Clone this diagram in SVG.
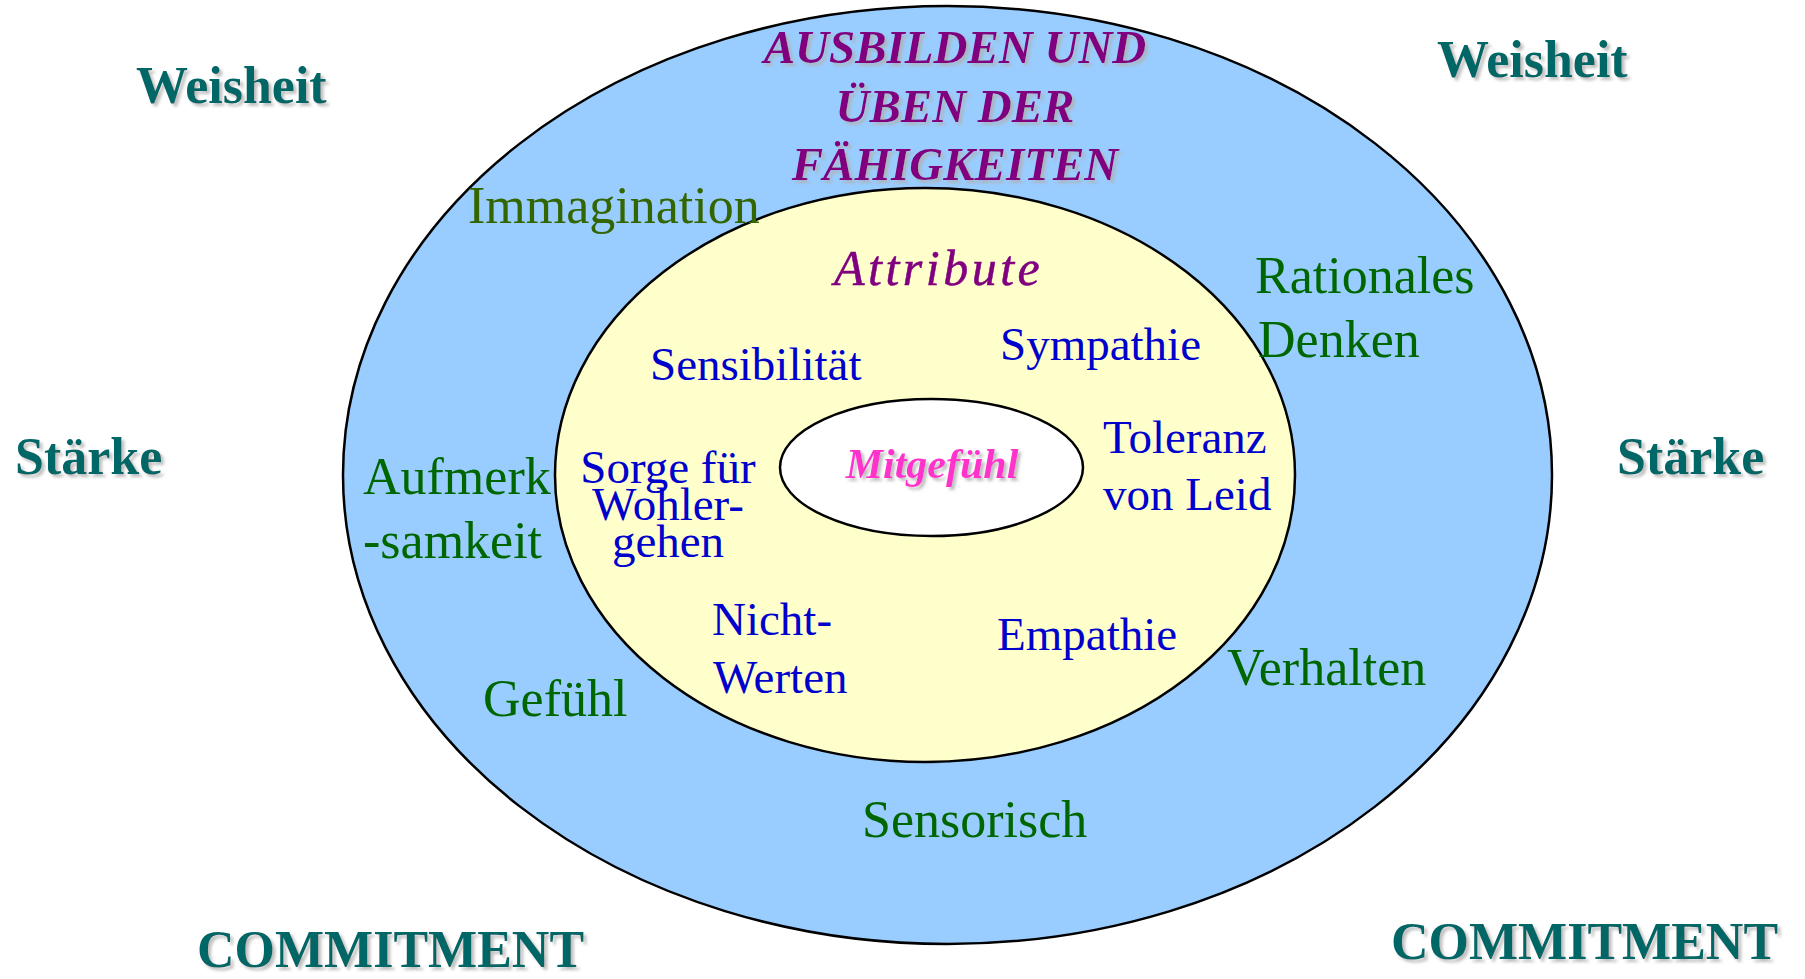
<svg xmlns="http://www.w3.org/2000/svg" width="1805" height="979" viewBox="0 0 1805 979">
<defs>
<filter id="sh" x="-10%" y="-20%" width="130%" height="150%">
<feDropShadow dx="3" dy="3" stdDeviation="1.5" flood-color="#b0b0b0" flood-opacity="0.8"/>
</filter>
<style>
text{font-family:"Liberation Serif","Times New Roman",serif}
.corner{font-size:52px;font-weight:bold;fill:#006666;filter:url(#sh)}
.title{font-size:47px;font-weight:bold;font-style:italic;fill:#800080;text-anchor:middle;filter:url(#sh)}
.green{font-size:52px;fill:#006600}
.blue{font-size:47px;fill:#0000cc}
.ring{stroke:#000;stroke-width:2.5}
</style>
</defs>
<rect width="1805" height="979" fill="#ffffff"/>
<g id="outer">
<ellipse class="ring" cx="947.5" cy="475" rx="604.5" ry="469" fill="#99ccff"/>
</g>
<g id="inner">
<ellipse class="ring" cx="925" cy="475" rx="370" ry="287" fill="#ffffcc"/>
</g>
<g id="core">
<ellipse class="ring" cx="931.5" cy="467.5" rx="151.5" ry="68.5" fill="#ffffff"/>
<text x="932" y="478" text-anchor="middle" font-size="42" font-weight="bold" font-style="italic" fill="#ff33cc" filter="url(#sh)">Mitgefühl</text>
</g>
<g id="corners">
<text class="corner" x="136" y="103">Weisheit</text>
<text class="corner" x="1437" y="77">Weisheit</text>
<text class="corner" x="15" y="474">Stärke</text>
<text class="corner" x="1617" y="474">Stärke</text>
<text class="corner" x="197" y="967">COMMITMENT</text>
<text class="corner" x="1391" y="959">COMMITMENT</text>
</g>
<g id="title">
<text class="title" x="955" y="63">AUSBILDEN UND</text>
<text class="title" x="955" y="122">ÜBEN DER</text>
<text class="title" x="955" y="180">FÄHIGKEITEN</text>
</g>
<g id="skills">
<text class="green" x="468" y="223" style="fill:#336600">Immagination</text>
<text class="green" x="1255" y="293">Rationales</text>
<text class="green" x="1258" y="357">Denken</text>
<text class="green" x="363" y="494">Aufmerk</text>
<text class="green" x="363" y="558">-samkeit</text>
<text class="green" x="483" y="716">Gefühl</text>
<text class="green" x="1227" y="685">Verhalten</text>
<text class="green" x="862" y="837">Sensorisch</text>
</g>
<g id="attributes">
<text x="834" y="285" font-size="50" font-style="italic" letter-spacing="3.5" fill="#800080" stroke="#800080" stroke-width="0.5">Attribute</text>
<text class="blue" x="650" y="380">Sensibilität</text>
<text class="blue" x="1000" y="360">Sympathie</text>
<text class="blue" x="1103" y="453">Toleranz</text>
<text class="blue" x="1103" y="510">von Leid</text>
<text class="blue" x="668" y="483" text-anchor="middle">Sorge für</text>
<text class="blue" x="668" y="520" text-anchor="middle">Wohler-</text>
<text class="blue" x="668" y="557" text-anchor="middle">gehen</text>
<text class="blue" x="712" y="635">Nicht-</text>
<text class="blue" x="713" y="693">Werten</text>
<text class="blue" x="997" y="650">Empathie</text>
</g>
<g id="connectors"></g>
</svg>
